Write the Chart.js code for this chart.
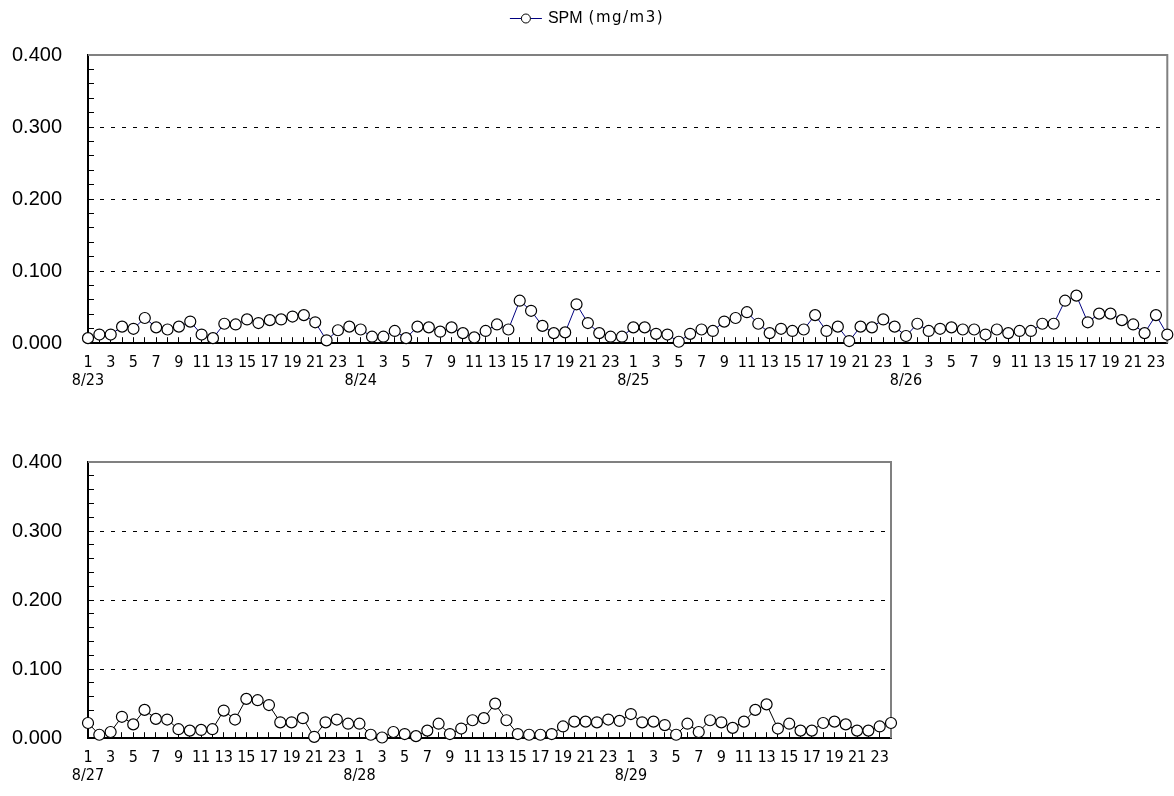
<!DOCTYPE html>
<html>
<head>
<meta charset="utf-8">
<script src="https://cdn.jsdelivr.net/npm/chart.js@4/dist/chart.umd.min.js"></script>
<style>
  body { margin: 0; background: #fff; overflow: hidden; }
  .wrap { position: absolute; left: 0; width: 1174px; }
  #top { top: 0; height: 406px; }
  #bottom { top: 406px; height: 395px; }
</style>
</head>
<body>
<div class="wrap" id="top"><canvas id="chartTop" width="1174" height="406"></canvas></div>
<div class="wrap" id="bottom"><canvas id="chartBottom" width="1174" height="395"></canvas></div>
<script>
// hourly SPM values (mg/m3), hours 1..24 per day
const daysTop = ['8/23', '8/24', '8/25', '8/26'];
const daysBottom = ['8/27', '8/28', '8/29'];

const spmTop = [
    0.007, 0.012, 0.012, 0.023, 0.020, 0.035, 0.022, 0.019, 0.023, 0.030, 0.012, 0.007,
    0.027, 0.026, 0.033, 0.028, 0.032, 0.033, 0.037, 0.039, 0.029, 0.004, 0.018, 0.023,
    0.019, 0.009, 0.009, 0.017, 0.007, 0.023, 0.022, 0.016, 0.022, 0.014, 0.008, 0.017,
    0.026, 0.019, 0.059, 0.045, 0.024, 0.014, 0.015, 0.054, 0.028, 0.014, 0.009, 0.009,
    0.022, 0.022, 0.013, 0.012, 0.002, 0.013, 0.019, 0.017, 0.030, 0.035, 0.043, 0.027,
    0.014, 0.020, 0.017, 0.019, 0.039, 0.017, 0.023, 0.003, 0.023, 0.022, 0.033, 0.023,
    0.010, 0.027, 0.017, 0.020, 0.022, 0.019, 0.019, 0.012, 0.019, 0.014, 0.017, 0.017,
    0.027, 0.027, 0.059, 0.066, 0.029, 0.041, 0.041, 0.032, 0.026, 0.014, 0.039, 0.012
];
const spmBottom = [
    0.022, 0.005, 0.009, 0.031, 0.020, 0.041, 0.028, 0.027, 0.013, 0.011, 0.012, 0.013,
    0.040, 0.027, 0.057, 0.055, 0.048, 0.023, 0.023, 0.029, 0.002, 0.023, 0.027, 0.021,
    0.021, 0.005, 0.001, 0.009, 0.006, 0.003, 0.011, 0.021, 0.006, 0.014, 0.026, 0.029,
    0.050, 0.026, 0.006, 0.005, 0.005, 0.006, 0.017, 0.024, 0.024, 0.023, 0.027, 0.025,
    0.035, 0.023, 0.024, 0.019, 0.005, 0.021, 0.009, 0.026, 0.023, 0.015, 0.024, 0.041,
    0.049, 0.014, 0.021, 0.011, 0.011, 0.022, 0.024, 0.020, 0.011, 0.011, 0.017, 0.022
];

const yMax = 0.4;
const yStep = 0.02;
const seriesName = 'SPM';
const seriesUnit = '(mg/m3)';

function buildLabels(days) {
    const out = [];
    days.forEach(d => {
        for (let h = 1; h <= 24; h++) {
            if (h === 1) out.push(['1', d]);
            else out.push(h % 2 ? String(h) : '');
        }
    });
    return out;
}

// gray top/right frame of the plot area
const frame = {
    id: 'frame',
    beforeDatasetsDraw(chart) {
        const a = chart.chartArea;
        const ctx = chart.ctx;
        ctx.save();
        ctx.strokeStyle = '#808080';
        ctx.lineWidth = 2;
        ctx.beginPath();
        ctx.moveTo(a.left, a.top);
        ctx.lineTo(a.right, a.top);
        ctx.lineTo(a.right, a.bottom);
        ctx.stroke();
        ctx.restore();
    }
};

// legend: line + circle, name, unit in a second font
const spmLegend = {
    id: 'spmLegend',
    afterDraw(chart, args, opts) {
        if (!opts.show) return;
        const ctx = chart.ctx;
        const ds = chart.data.datasets[0];
        const y = 18.5;
        const nameFont = '16px "Liberation Sans", Arial, sans-serif';
        const unitFont = '15px "DejaVu Sans", sans-serif';
        const spacing = '1.5px';
        const hasLS = 'letterSpacing' in ctx;
        ctx.save();
        ctx.font = nameFont;
        const wName = ctx.measureText(ds.label).width;
        ctx.font = unitFont;
        if (hasLS) ctx.letterSpacing = spacing;
        const wUnit = ctx.measureText(seriesUnit).width;
        const symW = 32, gap = 6, gap2 = 6;
        const total = symW + gap + wName + gap2 + wUnit;
        let x = chart.width / 2 - total / 2;
        ctx.strokeStyle = ds.borderColor;
        ctx.lineWidth = 1;
        ctx.beginPath(); ctx.moveTo(x, y); ctx.lineTo(x + symW, y); ctx.stroke();
        ctx.fillStyle = '#fff';
        ctx.strokeStyle = '#000';
        ctx.beginPath(); ctx.arc(x + symW / 2, y, 4.5, 0, Math.PI * 2); ctx.fill(); ctx.stroke();
        x += symW + gap;
        ctx.fillStyle = '#000';
        ctx.textBaseline = 'middle';
        ctx.font = nameFont;
        if (hasLS) ctx.letterSpacing = '0px';
        ctx.fillText(ds.label, x, y);
        x += wName + gap2;
        ctx.font = unitFont;
        if (hasLS) ctx.letterSpacing = spacing;
        ctx.fillText(seriesUnit, x, y);
        ctx.restore();
    }
};

function makeChart(id, days, values, lineColor, showLegend, padding) {
    return new Chart(document.getElementById(id), {
        type: 'line',
        data: {
            labels: buildLabels(days),
            datasets: [{
                label: seriesName,
                data: values,
                borderColor: lineColor,
                borderWidth: 1,
                pointRadius: 5.5,
                pointHoverRadius: 5.5,
                pointBorderWidth: 1.2,
                pointBackgroundColor: '#fff',
                pointBorderColor: '#000',
                tension: 0,
                clip: false
            }]
        },
        options: {
            responsive: false,
            animation: false,
            layout: { padding: padding },
            plugins: {
                legend: { display: false },
                tooltip: { enabled: false },
                spmLegend: { show: showLegend }
            },
            scales: {
                x: {
                    offset: false,
                    afterFit: s => { s.paddingLeft = 0; s.paddingRight = 0; },
                    grid: {
                        drawOnChartArea: false,
                        drawTicks: true,
                        tickLength: -6,
                        tickColor: '#000',
                        tickWidth: 1
                    },
                    border: { color: '#000', width: 2 },
                    ticks: {
                        autoSkip: false,
                        maxRotation: 0,
                        minRotation: 0,
                        padding: 16,
                        color: '#000',
                        font: { family: '"Liberation Sans Narrow", "DejaVu Sans Condensed", sans-serif', size: 16, lineHeight: 1.15 }
                    }
                },
                y: {
                    min: 0,
                    max: yMax,
                    afterFit: s => { s.width = 88; },
                    grid: {
                        color: c => (Math.round(c.tick.value * 1000) % 100 === 0 && c.tick.value > 0) ? '#000' : 'rgba(0,0,0,0)',
                        lineWidth: 1,
                        drawTicks: true,
                        tickLength: -6,
                        tickColor: '#000',
                        tickWidth: 1
                    },
                    border: { color: '#000', width: 2, dash: [4, 7] },
                    ticks: {
                        stepSize: yStep,
                        autoSkip: false,
                        padding: 32,
                        color: '#000',
                        font: { family: '"Liberation Sans", Arial, sans-serif', size: 20 },
                        callback: v => (Math.round(v * 1000) % 100 === 0) ? v.toFixed(3) : ''
                    }
                }
            }
        },
        plugins: [frame, spmLegend]
    });
}

makeChart('chartTop', daysTop, spmTop, '#000080', true, { top: 55, right: 6, left: 0, bottom: 0 });
makeChart('chartBottom', daysBottom, spmBottom, '#000', false, { top: 56, right: 283, left: 0, bottom: 0 });
</script>
</body>
</html>
